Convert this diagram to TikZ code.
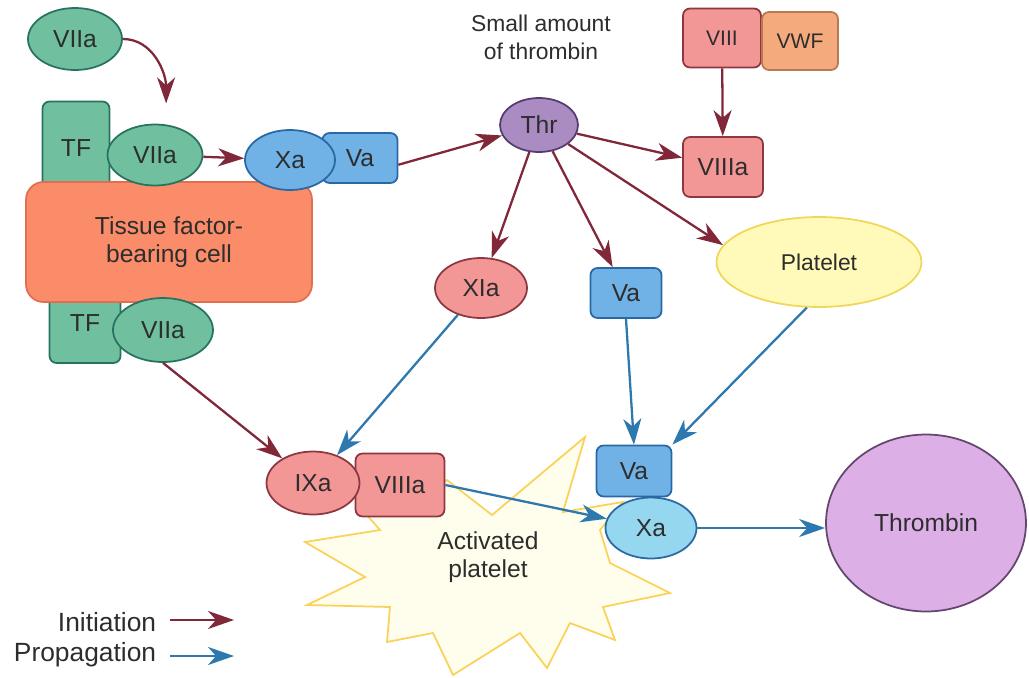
\documentclass[tikz,border=0pt]{standalone}
\usepackage{fontspec}
\setmainfont{Liberation Sans}
\usetikzlibrary{shapes, arrows.meta, positioning}

\definecolor{initred}{RGB}{128,40,58}
\definecolor{propblue}{RGB}{45,120,175}
\definecolor{txtgray}{RGB}{45,45,45}
\definecolor{greenfill}{RGB}{112,192,160}
\definecolor{greenline}{RGB}{40,115,95}
\definecolor{bluefill}{RGB}{112,178,230}
\definecolor{blueline}{RGB}{40,105,165}
\definecolor{cyanfill}{RGB}{150,215,240}
\definecolor{pinkfill}{RGB}{242,150,150}
\definecolor{pinkline}{RGB}{140,55,65}
\definecolor{cellfill}{RGB}{250,140,105}
\definecolor{cellline}{RGB}{225,110,80}
\definecolor{vwffill}{RGB}{245,170,125}
\definecolor{vwfline}{RGB}{185,120,80}
\definecolor{thrfill}{RGB}{170,140,195}
\definecolor{thrline}{RGB}{85,60,110}
\definecolor{platefill}{RGB}{255,250,185}
\definecolor{plateline}{RGB}{240,215,90}
\definecolor{burstfill}{RGB}{255,253,236}
\definecolor{burstline}{RGB}{250,210,90}
\definecolor{thrombfill}{RGB}{220,175,230}
\definecolor{thrombline}{RGB}{100,70,110}

\begin{document}
\begin{tikzpicture}[x=0.02cm, y=-0.02cm,
                    every node/.style={draw, text=txtgray, inner sep=0pt, line width=1pt,
                                       font=\fontsize{14}{16}\selectfont},
                    greenoval/.style={ellipse, fill=greenfill, draw=greenline},
                    greenbox/.style={rectangle, rounded corners=4pt, fill=greenfill, draw=greenline},
                    blueoval/.style={ellipse, fill=bluefill, draw=blueline},
                    bluebox/.style={rectangle, rounded corners=4pt, fill=bluefill, draw=blueline},
                    pinkoval/.style={ellipse, fill=pinkfill, draw=pinkline},
                    pinkbox/.style={rectangle, rounded corners=4pt, fill=pinkfill, draw=pinkline},
                    plain/.style={draw=none, fill=none, align=center},
                    initarrow/.style={->, draw=initred, line width=1.3pt},
                    proparrow/.style={->, draw=propblue, line width=1.3pt},
                    >={Stealth[length=5.2mm, width=3.6mm, inset=1.6mm]}]

\useasboundingbox (0,0) rectangle (1029,677);

% Activated platelet
\draw[fill=burstfill, draw=burstline, line width=1pt]
  plot coordinates {(585,437) (563,512) (623,502) (600,530) (610,563) (670,593)
                    (603,607) (615,640) (570,623) (547,668) (520,633) (453,675)
                    (433,633) (387,642) (390,607) (307,605) (365,577) (305,542)
                    (380,530) (358,505) (400,503) (447,480) (492,515)} -- cycle;
\node (actplt) [plain] at (488,557) {Activated\\platelet};

% Nodes
\node (tf1) [greenbox, minimum width=1.34cm, minimum height=1.86cm] at (76,148) {TF};
\node (tf2) [greenbox, minimum width=1.42cm, minimum height=1.6cm] at (85,323) {TF};
\node (cell) [rectangle, rounded corners=10pt, fill=cellfill, draw=cellline, align=center,
              minimum width=5.72cm, minimum height=2.4cm] at (169,242) {Tissue factor-\\bearing cell};
\node (vii1) [greenoval, minimum width=1.88cm, minimum height=1.24cm] at (75,39) {VIIa};
\node (vii2) [greenoval, minimum width=1.9cm, minimum height=1.22cm] at (155,155) {VIIa};
\node (vii3) [greenoval, minimum width=2cm, minimum height=1.28cm] at (163,330) {VIIa};
\node (va1) [bluebox, minimum width=1.5cm, minimum height=1cm] at (360,158) {Va};
\node (xa1) [blueoval, minimum width=1.8cm, minimum height=1.2cm] at (290,160) {Xa};
\node (small) [plain, font=\fontsize{13}{16}\selectfont] at (541,37) {Small amount\\of thrombin};
\node (thr) [ellipse, fill=thrfill, draw=thrline, minimum width=1.56cm, minimum height=1.08cm] at (539,125) {Thr};
\node (viii) [pinkbox, minimum width=1.56cm, minimum height=1.18cm, font=\fontsize{12}{14}\selectfont] at (722,38) {VIII};
\node (vwf) [rectangle, rounded corners=4pt, fill=vwffill, draw=vwfline, minimum width=1.52cm,
             minimum height=1.16cm, font=\fontsize{12}{14}\selectfont] at (800,41) {VWF};
\node (viiia1) [pinkbox, minimum width=1.6cm, minimum height=1.2cm] at (723,167) {VIIIa};
\node (xia) [pinkoval, minimum width=1.84cm, minimum height=1.2cm] at (481,288) {XIa};
\node (va2) [bluebox, minimum width=1.42cm, minimum height=1cm] at (626,293) {Va};
\node (platelet) [ellipse, fill=platefill, draw=plateline, minimum width=4.1cm, minimum height=1.8cm,
                  font=\fontsize{13}{15}\selectfont] at (819,262) {Platelet};
\node (viiia2) [pinkbox, minimum width=1.78cm, minimum height=1.26cm] at (400,485) {VIIIa};
\node (ixa) [pinkoval, minimum width=1.86cm, minimum height=1.26cm] at (313,483) {IXa};
\node (va3) [bluebox, minimum width=1.5cm, minimum height=1.02cm] at (634,471) {Va};
\node (xa2) [ellipse, fill=cyanfill, draw=blueline, minimum width=1.82cm, minimum height=1.22cm] at (651,528) {Xa};
\node (thrombin) [ellipse, fill=thrombfill, draw=thrombline, minimum width=4cm, minimum height=3.54cm] at (926,523) {Thrombin};

% Legend
\node (leginit) [plain, anchor=east, font=\fontsize{15}{17}\selectfont] at (157,622) {Initiation};
\node (legprop) [plain, anchor=east, font=\fontsize{15}{17}\selectfont] at (157,655) {Propagation};
\coordinate (li1) at (170,620);
\coordinate (li2) at (234,620);
\coordinate (lp1) at (170,656);
\coordinate (lp2) at (234,656);

% Edges
\draw[initarrow] (vii1.east) to[out=0, in=90] ([yshift=12]vii2.70);
\draw[initarrow] (vii2) -- (xa1);
\draw[initarrow] (va1.-10) -- (thr);
\draw[initarrow] (thr) -- (viiia1);
\draw[initarrow] (viii) -- (viiia1);
\draw[initarrow] (thr) -- (xia);
\draw[initarrow] (thr) -- (va2);
\draw[initarrow] (thr) -- (platelet.170);
\draw[initarrow] (vii3.south) -- (ixa);
\draw[proparrow] (xia) -- (ixa);
\draw[proparrow] (va2.south) -- (va3.north);
\draw[proparrow] (platelet.-105) -- (va3.north east);
\draw[proparrow] (viiia2.east) -- (xa2);
\draw[proparrow] (xa2.east) -- (xa2.east -| thrombin.west);
\draw[initarrow] (li1) -- (li2);
\draw[proparrow] (lp1) -- (lp2);

\end{tikzpicture}
\end{document}
